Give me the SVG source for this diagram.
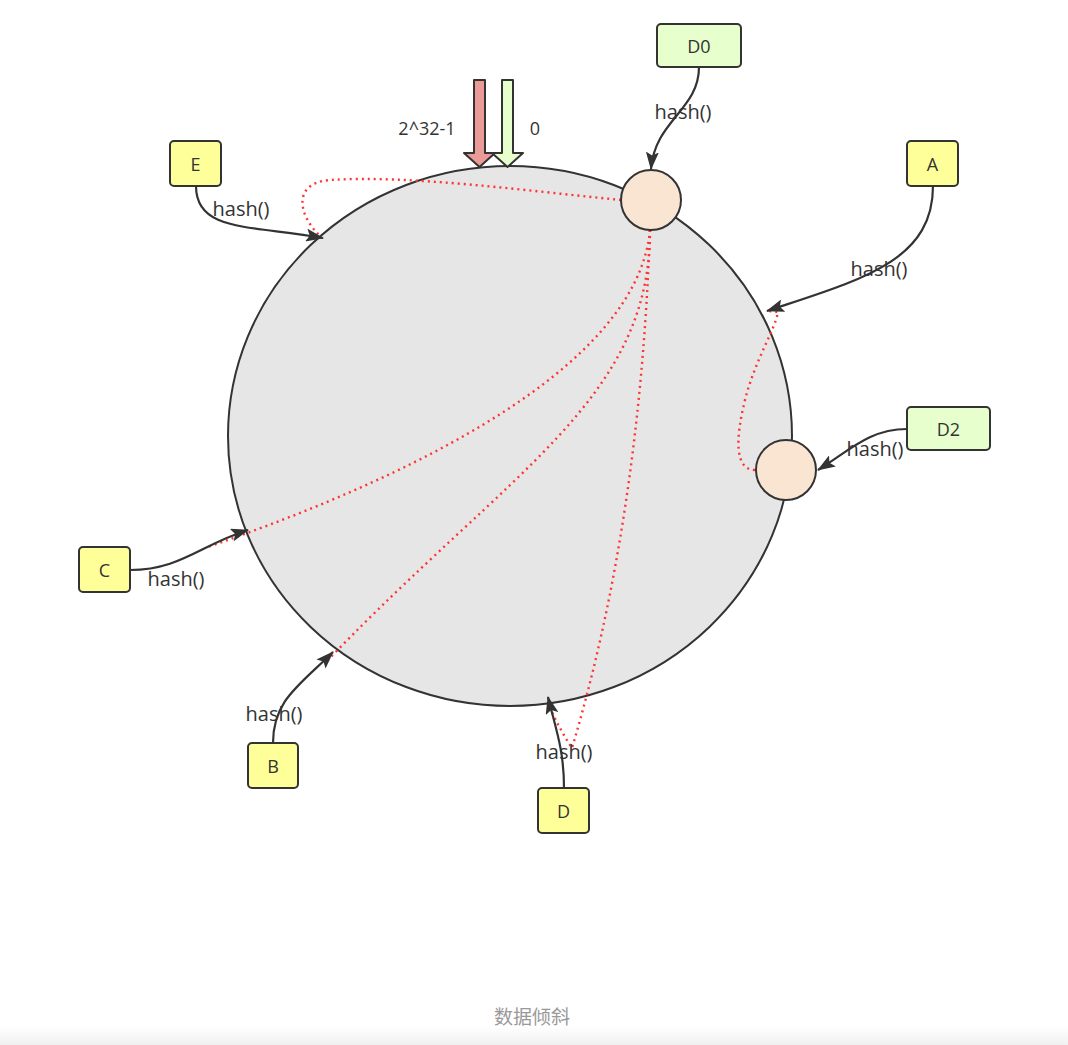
<svg xmlns="http://www.w3.org/2000/svg" width="1068" height="1045" viewBox="0 0 1068 1045">
<defs>
<style>
.box{stroke:#333;stroke-width:2}
.y{fill:#ffff99}
.g{fill:#e6ffcc}
.lbl{font-family:"Open Sans","Liberation Sans",Arial,sans-serif;font-size:18px;fill:#333;text-anchor:middle;dominant-baseline:central}
.h{font-family:"Open Sans","Liberation Sans",Arial,sans-serif;font-size:20px;fill:#333;text-anchor:middle;dominant-baseline:central}
.edge{fill:none;stroke:#333;stroke-width:2.2;marker-end:url(#arr)}
.dot{fill:none;stroke:#ff3333;stroke-width:2.4;stroke-dasharray:2 4}
.node{fill:#fae5d3;stroke:#333;stroke-width:2}
</style>
<marker id="arr" viewBox="0 0 18 13" refX="17" refY="6.5" markerWidth="18" markerHeight="13" markerUnits="userSpaceOnUse" orient="auto">
<path d="M0,0 L18,6.5 L0,13 L3.5,6.5 z" fill="#333"/>
</marker>
<linearGradient id="band" x1="0" y1="0" x2="0" y2="1">
<stop offset="0" stop-color="#ffffff"/>
<stop offset="1" stop-color="#f0f0f0"/>
</linearGradient>
</defs>
<rect x="0" y="0" width="1068" height="1045" fill="#ffffff"/>
<rect x="0" y="1026" width="1068" height="19" fill="url(#band)"/>

<g id="ring">
<ellipse cx="510" cy="436" rx="282" ry="270" fill="#e6e6e6" stroke="#333" stroke-width="2"/>
</g>

<g id="markers-top">
<path d="M474,80 L485,80 L485,153 L495,153 L479.5,167 L464,153 L474,153 Z" fill="#ea9a97" stroke="#333" stroke-width="2" stroke-linejoin="round"/>
<path d="M502,80 L513,80 L513,153 L523,153 L507.5,167 L492,153 L502,153 Z" fill="#e6ffcc" stroke="#333" stroke-width="2" stroke-linejoin="round"/>
<text class="lbl" x="427" y="128">2^32-1</text>
<text class="lbl" x="535" y="128">0</text>
</g>

<g id="connectors">
<path class="dot" d="M621,200 C 520,190 410,175 330,180 C 292,183 298,215 320,236"/>
<path class="dot" d="M650,230 C 640,340 490,450 205,548"/>
<path class="dot" d="M650,230 C 650,400 510,470 328,660"/>
<path class="dot" d="M650,230 Q 640,520 572,748 Q 560,730 550,708"/>
<path class="dot" d="M755,470 C 735,470 735,440 745,400 C 755,360 775,330 778,312 L 768,311"/>
<text class="h" x="683" y="111">hash()</text>
<text class="h" x="241" y="208">hash()</text>
<text class="h" x="879" y="268">hash()</text>
<text class="h" x="875" y="448">hash()</text>
<text class="h" x="176" y="578">hash()</text>
<text class="h" x="274" y="713">hash()</text>
<text class="h" x="564" y="751">hash()</text>
<path class="edge" d="M699,67 C 699,110 655,120 651,169"/>
<path class="edge" d="M196,186 C 196,232 250,225 323,238"/>
<path class="edge" d="M933,186 C 933,262 860,280 767,311"/>
<path class="edge" d="M907,429 C 870,429 850,450 818,470"/>
<path class="edge" d="M130,570 C 180,570 200,545 248,530"/>
<path class="edge" d="M273,743 C 273,700 300,685 333,652"/>
<path class="edge" d="M564,788 C 564,750 556,730 548,697"/>
</g>

<g id="node-d0-ring"><circle class="node" cx="651" cy="200" r="30"/></g>
<g id="node-d2-ring"><circle class="node" cx="786" cy="470" r="30"/></g>

<g id="node-D0"><rect class="box g" x="657" y="24" width="84" height="43" rx="4"/><text class="lbl" x="699" y="45.5">D0</text></g>
<g id="node-E"><rect class="box y" x="170" y="141" width="51" height="45" rx="4"/><text class="lbl" x="195.5" y="163.5">E</text></g>
<g id="node-A"><rect class="box y" x="907" y="141" width="51" height="45" rx="4"/><text class="lbl" x="932.5" y="163.5">A</text></g>
<g id="node-D2"><rect class="box g" x="907" y="407" width="83" height="43" rx="4"/><text class="lbl" x="948.5" y="428.5">D2</text></g>
<g id="node-C"><rect class="box y" x="79" y="547" width="51" height="45" rx="4"/><text class="lbl" x="104.5" y="569.5">C</text></g>
<g id="node-B"><rect class="box y" x="248" y="743" width="50" height="45" rx="4"/><text class="lbl" x="273" y="765.5">B</text></g>
<g id="node-D"><rect class="box y" x="538" y="788" width="51" height="45" rx="4"/><text class="lbl" x="563.5" y="810.5">D</text></g>

<text x="532" y="1024" font-family="'Noto Sans CJK SC',sans-serif" font-size="19" fill="#999" text-anchor="middle">数据倾斜</text>
</svg>
